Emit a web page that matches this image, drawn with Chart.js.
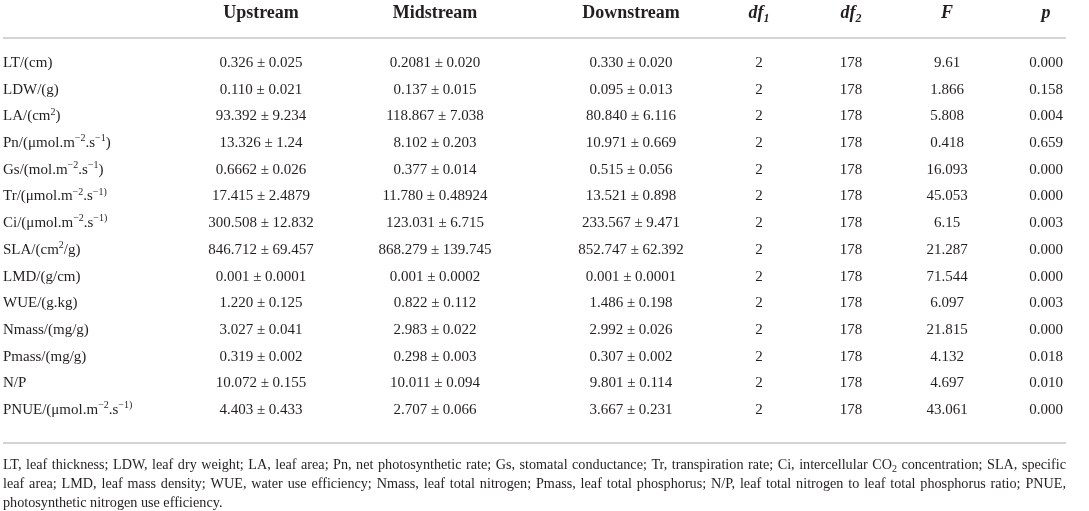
<!DOCTYPE html>
<html>
<head>
<meta charset="utf-8">
<script src="https://cdn.jsdelivr.net/npm/chart.js@4"></script>
<style>
  html, body { margin: 0; padding: 0; background: #fff; }
</style>
</head>
<body>
<canvas id="statsTable" width="1089" height="511"></canvas>
<script>
// ---- table data ----
const rowLabels = [
    'LT/(cm)', 'LDW/(g)', 'LA/(cm^{2})', 'Pn/(μmol.m^{−2}.s^{−1})', 'Gs/(mol.m^{−2}.s^{−1})',
    'Tr/(μmol.m^{−2}.s^{−1)}', 'Ci/(μmol.m^{−2}.s^{−1)}', 'SLA/(cm^{2}/g)', 'LMD/(g/cm)', 'WUE/(g.kg)',
    'Nmass/(mg/g)', 'Pmass/(mg/g)', 'N/P', 'PNUE/(μmol.m^{−2}.s^{−1)}'
];
const columnHeaders = ['Upstream', 'Midstream', 'Downstream', 'df_{1}', 'df_{2}', 'F', 'p'];

const upstreamMean   = ['0.326', '0.110', '93.392', '13.326', '0.6662', '17.415', '300.508', '846.712', '0.001', '1.220', '3.027', '0.319', '10.072', '4.403'];
const upstreamSE     = ['0.025', '0.021', '9.234', '1.24', '0.026', '2.4879', '12.832', '69.457', '0.0001', '0.125', '0.041', '0.002', '0.155', '0.433'];
const midstreamMean  = ['0.2081', '0.137', '118.867', '8.102', '0.377', '11.780', '123.031', '868.279', '0.001', '0.822', '2.983', '0.298', '10.011', '2.707'];
const midstreamSE    = ['0.020', '0.015', '7.038', '0.203', '0.014', '0.48924', '6.715', '139.745', '0.0002', '0.112', '0.022', '0.003', '0.094', '0.066'];
const downstreamMean = ['0.330', '0.095', '80.840', '10.971', '0.515', '13.521', '233.567', '852.747', '0.001', '1.486', '2.992', '0.307', '9.801', '3.667'];
const downstreamSE   = ['0.020', '0.013', '6.116', '0.669', '0.056', '0.898', '9.471', '62.392', '0.0001', '0.198', '0.026', '0.002', '0.114', '0.231'];
const df1Values = ['2', '2', '2', '2', '2', '2', '2', '2', '2', '2', '2', '2', '2', '2'];
const df2Values = ['178', '178', '178', '178', '178', '178', '178', '178', '178', '178', '178', '178', '178', '178'];
const fValues = ['9.61', '1.866', '5.808', '0.418', '16.093', '45.053', '6.15', '21.287', '71.544', '6.097', '21.815', '4.132', '4.697', '43.061'];
const pValues = ['0.000', '0.158', '0.004', '0.659', '0.000', '0.000', '0.003', '0.000', '0.000', '0.003', '0.000', '0.018', '0.010', '0.000'];

const footnoteLines = [
    'LT, leaf thickness; LDW, leaf dry weight; LA, leaf area; Pn, net photosynthetic rate; Gs, stomatal conductance; Tr, transpiration rate; Ci, intercellular CO_{2} concentration; SLA, specific',
    'leaf area; LMD, leaf mass density; WUE, water use efficiency; Nmass, leaf total nitrogen; Pmass, leaf total phosphorus; N/P, leaf total nitrogen to leaf total phosphorus ratio; PNUE,',
    'photosynthetic nitrogen use efficiency.'
];

// ---- layout / style ----
const COL_X = [261, 435, 631, 759, 851, 947, 1046];   // column centres on the x scale
const TABLE_LEFT = 3;
const TABLE_RIGHT = 1066;
const FONT = "'Liberation Serif', 'Times New Roman', serif";
const TEXT_COLOR = '#231f20';
const RULE_COLOR = '#c6c6c6';

const plusMinus = (means, ses) => means.map((m, i) => m + ' ± ' + ses[i]);
const columnTexts = [
    plusMinus(upstreamMean, upstreamSE),
    plusMinus(midstreamMean, midstreamSE),
    plusMinus(downstreamMean, downstreamSE),
    df1Values, df2Values, fValues, pValues
];

// tiny rich-text helper: ^{..} superscript, _{..} subscript
function parseRich(s) {
    const out = [];
    const re = /([\^_])\{([^}]*)\}/g;
    let last = 0, m;
    while ((m = re.exec(s))) {
        if (m.index > last) out.push({ t: s.slice(last, m.index), mode: 0 });
        out.push({ t: m[2], mode: m[1] === '^' ? 1 : -1 });
        last = re.lastIndex;
    }
    if (last < s.length) out.push({ t: s.slice(last), mode: 0 });
    return out;
}

function fontFor(size, mode, weight, style) {
    const sz = mode === 0 ? size : Math.round(size * 0.68);
    return `${style} ${weight} ${sz}px ${FONT}`;
}

function richWidth(ctx, s, size, weight = 'normal', style = 'normal') {
    let w = 0;
    parseRich(s).forEach(seg => {
        ctx.font = fontFor(size, seg.mode, weight, style);
        w += ctx.measureText(seg.t).width;
    });
    return w;
}

function drawRich(ctx, s, x, y, size, align = 'center', weight = 'normal', style = 'normal') {
    const w = richWidth(ctx, s, size, weight, style);
    let cx = align === 'center' ? x - w / 2 : (align === 'right' ? x - w : x);
    ctx.textAlign = 'left';
    ctx.textBaseline = 'alphabetic';
    ctx.fillStyle = TEXT_COLOR;
    parseRich(s).forEach(seg => {
        ctx.font = fontFor(size, seg.mode, weight, style);
        const dy = seg.mode === 1 ? -size * 0.38 : (seg.mode === -1 ? size * 0.2 : 0);
        ctx.fillText(seg.t, cx, y + dy);
        cx += ctx.measureText(seg.t).width;
    });
}

function drawJustified(ctx, line, x0, x1, y, size, justify) {
    const words = line.split(' ');
    const widths = words.map(w => richWidth(ctx, w, size));
    const total = widths.reduce((a, b) => a + b, 0);
    ctx.font = fontFor(size, 0, 'normal', 'normal');
    const space = ctx.measureText(' ').width;
    let gap = justify ? (x1 - x0 - total) / (words.length - 1) : space;
    if (gap < space * 0.6) gap = space * 0.6;
    let x = x0;
    words.forEach((w, k) => {
        drawRich(ctx, w, x, y, size, 'left');
        x += widths[k] + gap;
    });
}

function hRule(ctx, y) {
    ctx.strokeStyle = RULE_COLOR;
    ctx.lineWidth = 1.5;
    ctx.beginPath();
    ctx.moveTo(TABLE_LEFT, y);
    ctx.lineTo(TABLE_RIGHT, y);
    ctx.stroke();
}

const tableTextPlugin = {
    id: 'tableText',
    afterDatasetsDraw(chart) {
        const ctx = chart.ctx;
        const area = chart.chartArea;
        const xs = chart.scales.x;
        const ys = chart.scales.y;
        ctx.save();

        // header row + rule
        chart.data.datasets.forEach((ds, c) => {
            const hx = xs.getPixelForValue(ds.data[0].x);
            drawRich(ctx, ds.label, hx, area.top - 31, 18, 'center', 'bold', c >= 3 ? 'italic' : 'normal');
        });
        hRule(ctx, area.top - 11);

        // body cells, positioned by the scales
        chart.data.datasets.forEach((ds, c) => {
            const meta = chart.getDatasetMeta(c);
            meta.data.forEach((pt, i) => {
                drawRich(ctx, ds.cellText[i], pt.x, pt.y + 4.5, 15, 'center');
            });
        });

        // row labels
        rowLabels.forEach((lab, i) => {
            drawRich(ctx, lab, TABLE_LEFT, ys.getPixelForValue(i) + 4.5, 15, 'left');
        });

        // bottom rule + footnote
        hRule(ctx, area.bottom + 20);
        footnoteLines.forEach((line, k) => {
            drawJustified(ctx, line, TABLE_LEFT, TABLE_RIGHT, area.bottom + 46 + k * 18.8, 14.2, k < footnoteLines.length - 1);
        });
        ctx.restore();
    }
};

new Chart(document.getElementById('statsTable'), {
    type: 'scatter',
    data: {
        datasets: columnHeaders.map((h, c) => ({
            label: h,
            cellText: columnTexts[c],
            data: rowLabels.map(r => ({ x: COL_X[c], y: r })),
            pointRadius: 0,
            pointHoverRadius: 0
        }))
    },
    options: {
        responsive: false,
        animation: false,
        events: [],
        layout: { padding: { top: 49, bottom: 88, left: 0, right: 0 } },
        plugins: {
            legend: { display: false },
            tooltip: { enabled: false }
        },
        scales: {
            x: { type: 'linear', min: 0, max: 1089, display: false },
            y: { type: 'category', labels: rowLabels, offset: true, display: false }
        }
    },
    plugins: [tableTextPlugin]
});
</script>
</body>
</html>
